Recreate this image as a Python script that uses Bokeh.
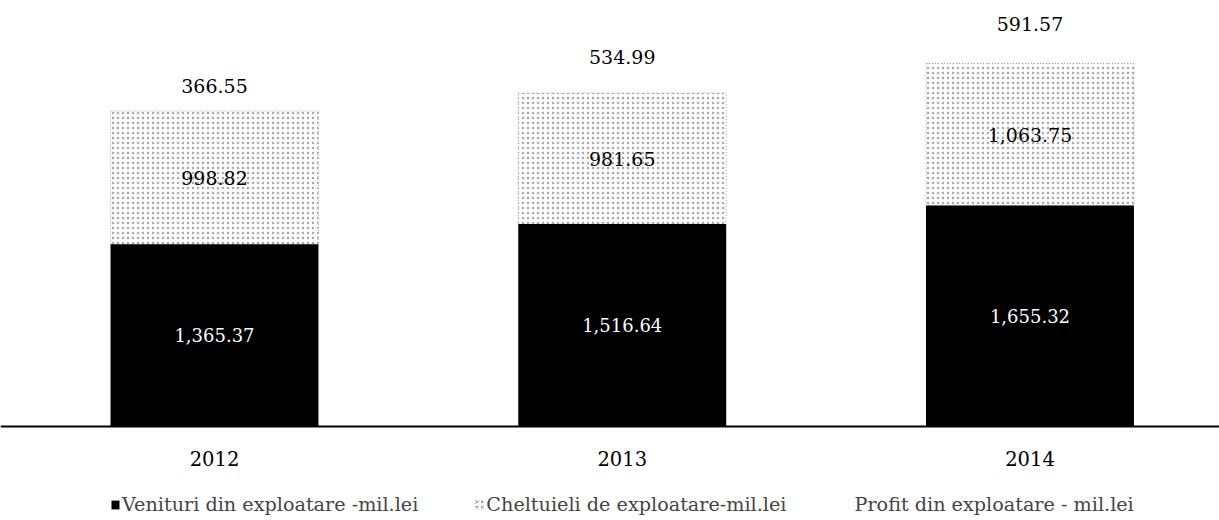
import numpy as np
from bokeh.plotting import figure
from bokeh.models import ColumnDataSource, Range1d, FixedTicker, Legend, LegendItem
from bokeh.core.properties import value
from bokeh.embed import file_html
from bokeh.resources import INLINE

# ---- data ----
years = ["2012", "2013", "2014"]
venituri = [1365.37, 1516.64, 1655.32]
cheltuieli = [998.82, 981.65, 1063.75]
profit = [366.55, 534.99, 591.57]
series_names = [
    "Venituri din exploatare -mil.lei",
    "Cheltuieli de exploatare-mil.lei",
    "Profit din exploatare - mil.lei",
]

FONT = "DejaVu Serif"

x = list(range(len(years)))
v = np.array(venituri)
c = np.array(cheltuieli)
pr = np.array(profit)

src = ColumnDataSource(dict(
    x=x,
    v_bottom=np.zeros(len(x)), v_top=v,
    c_bottom=v, c_top=v + c,
    p_bottom=v + c, p_top=v + c + pr,
    v_mid=v / 2, c_mid=v + c / 2, p_mid=v + c + pr / 2,
    v_lab=[f"{a:,.2f}" for a in venituri],
    c_lab=[f"{a:,.2f}" for a in cheltuieli],
    p_lab=[f"{a:,.2f}" for a in profit],
))

p = figure(width=1219, height=520, output_backend="svg", toolbar_location=None,
           x_range=Range1d(-0.5248, 2.4648), y_range=Range1d(-704, 3191),
           y_axis_location=None, min_border=0,
           min_border_left=0, min_border_right=0, min_border_top=0, min_border_bottom=0)
p.outline_line_color = None
p.xgrid.visible = False
p.ygrid.visible = False
p.background_fill_color = "white"
p.border_fill_color = "white"

W = 0.51
r2 = p.vbar(x="x", bottom="c_bottom", top="c_top", width=W, source=src,
            fill_color="white", hatch_pattern=".", hatch_color="#9a9a9a",
            hatch_scale=5, hatch_weight=1, hatch_alpha=0.85,
            line_color="#a8a8a8", line_dash="1 2", line_width=1)
r1 = p.vbar(x="x", bottom="v_bottom", top="v_top", width=W, source=src,
            fill_color="black", line_color=None)
r3 = p.vbar(x="x", bottom="p_bottom", top="p_top", width=W, source=src,
            fill_color="white", fill_alpha=0.0, line_color=None)

p.text(x="x", y="v_mid", text="v_lab", source=src, text_color="white",
       text_font=value(FONT), text_font_size="18px",
       text_align="center", text_baseline="middle")
p.text(x="x", y="c_mid", text="c_lab", source=src, text_color="black",
       text_font=value(FONT), text_font_size="19px",
       text_align="center", text_baseline="middle")
p.text(x="x", y="p_mid", text="p_lab", source=src, text_color="black",
       text_font=value(FONT), text_font_size="19px",
       text_align="center", text_baseline="middle")

ax = p.xaxis[0]
ax.fixed_location = 0
ax.ticker = FixedTicker(ticks=x)
ax.major_label_overrides = {i: yr for i, yr in zip(x, years)}
ax.major_label_text_font = FONT
ax.major_label_text_font_size = "19.5px"
ax.major_label_text_color = "black"
ax.major_label_standoff = 18
ax.axis_line_width = 2
ax.axis_line_color = "black"
ax.major_tick_line_color = None
ax.minor_tick_line_color = None

legend = Legend(items=[
    LegendItem(label=series_names[0], renderers=[r1]),
    LegendItem(label=series_names[1], renderers=[r2]),
    LegendItem(label=series_names[2], renderers=[r3]),
], orientation="horizontal", location=(110, 4),
    glyph_width=10, glyph_height=11, label_standoff=2, spacing=56,
    padding=0, margin=0, border_line_color=None, background_fill_alpha=0,
    label_text_font=FONT, label_text_font_size="19.2px", label_height=20)
p.add_layout(legend)

open("out.html", "w").write(file_html(p, INLINE))
